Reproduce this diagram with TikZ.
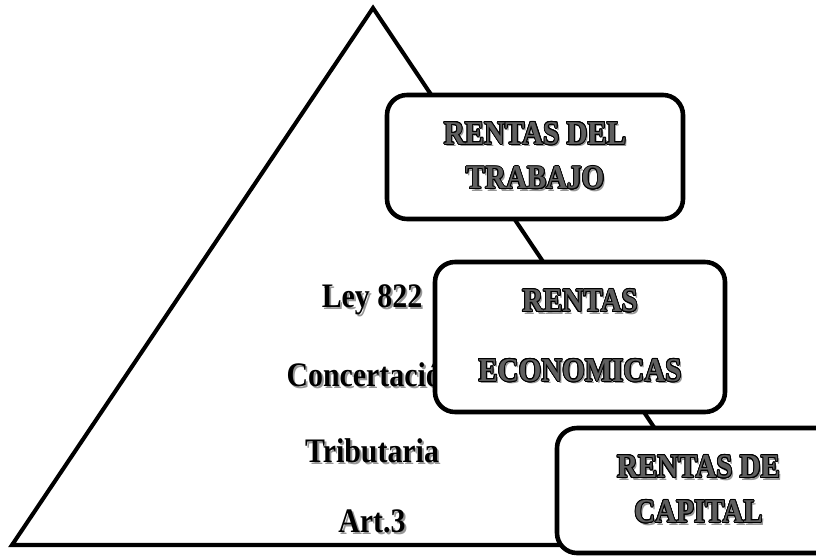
\documentclass[tikz,border=0pt]{standalone}
\usepackage{fontspec}
\setmainfont{Liberation Serif}
\usepackage{graphicx}
\usepackage{contour}
\definecolor{shadowcol}{RGB}{150,150,150}
\definecolor{engravecol}{RGB}{95,95,95}
\contourlength{0.5pt}
\newcommand{\shadowed}[1]{\scalebox{1}[1.15]{\rlap{\kern1.1pt\raisebox{-1.3pt}{\textcolor{shadowcol}{#1}}}#1}}
\newcommand{\engraved}[1]{\scalebox{1}[1.15]{\rlap{\kern1.1pt\raisebox{-1.3pt}{\textcolor{shadowcol}{#1}}}\contour{black}{\textcolor{engravecol}{#1}}}}

\begin{document}
\begin{tikzpicture}[
    rentabox/.style={draw, line width=2.6pt, rounded corners=0.4cm, fill=white,
        align=center, inner sep=0pt, font=\bfseries\fontsize{16.5}{25.5}\selectfont},
    leytext/.style={anchor=base, font=\bfseries\fontsize{17}{20}\selectfont}
]
    \useasboundingbox (0,0) rectangle (16.32,11.14);

    % Pyramid
    \coordinate (apex) at (7.46,10.98);
    \coordinate (baseL) at (0.24,0.24);
    \coordinate (baseR) at (14.66,0.24);
    \draw[line width=2.3pt] (baseL) -- (apex) -- (baseR) -- cycle;

    % Text inside the pyramid
    \node[leytext] (ley) at (7.44,5.0) {\shadowed{Ley 822}};
    \node[leytext] (concert) at (7.44,3.42) {\shadowed{Concertación}};
    \node[leytext] (tribut) at (7.44,1.9) {\shadowed{Tributaria}};
    \node[leytext] (art) at (7.44,0.5) {\shadowed{Art.3}};

    % Boxes on the right side
    \node[rentabox, minimum width=5.92cm, minimum height=2.48cm] (trabajo) at (10.7,8.0)
        {\engraved{RENTAS DEL}\\\engraved{TRABAJO}};
    \node[rentabox, minimum width=5.8cm, minimum height=3.0cm] (economicas) at (11.6,4.4)
        {\engraved{RENTAS}\\[14pt]\engraved{ECONOMICAS}};
    \node[rentabox, minimum width=5.66cm, minimum height=2.5cm] (capital) at (13.97,1.33)
        {\engraved{RENTAS DE}\\\engraved{CAPITAL}};

\end{tikzpicture}
\end{document}
